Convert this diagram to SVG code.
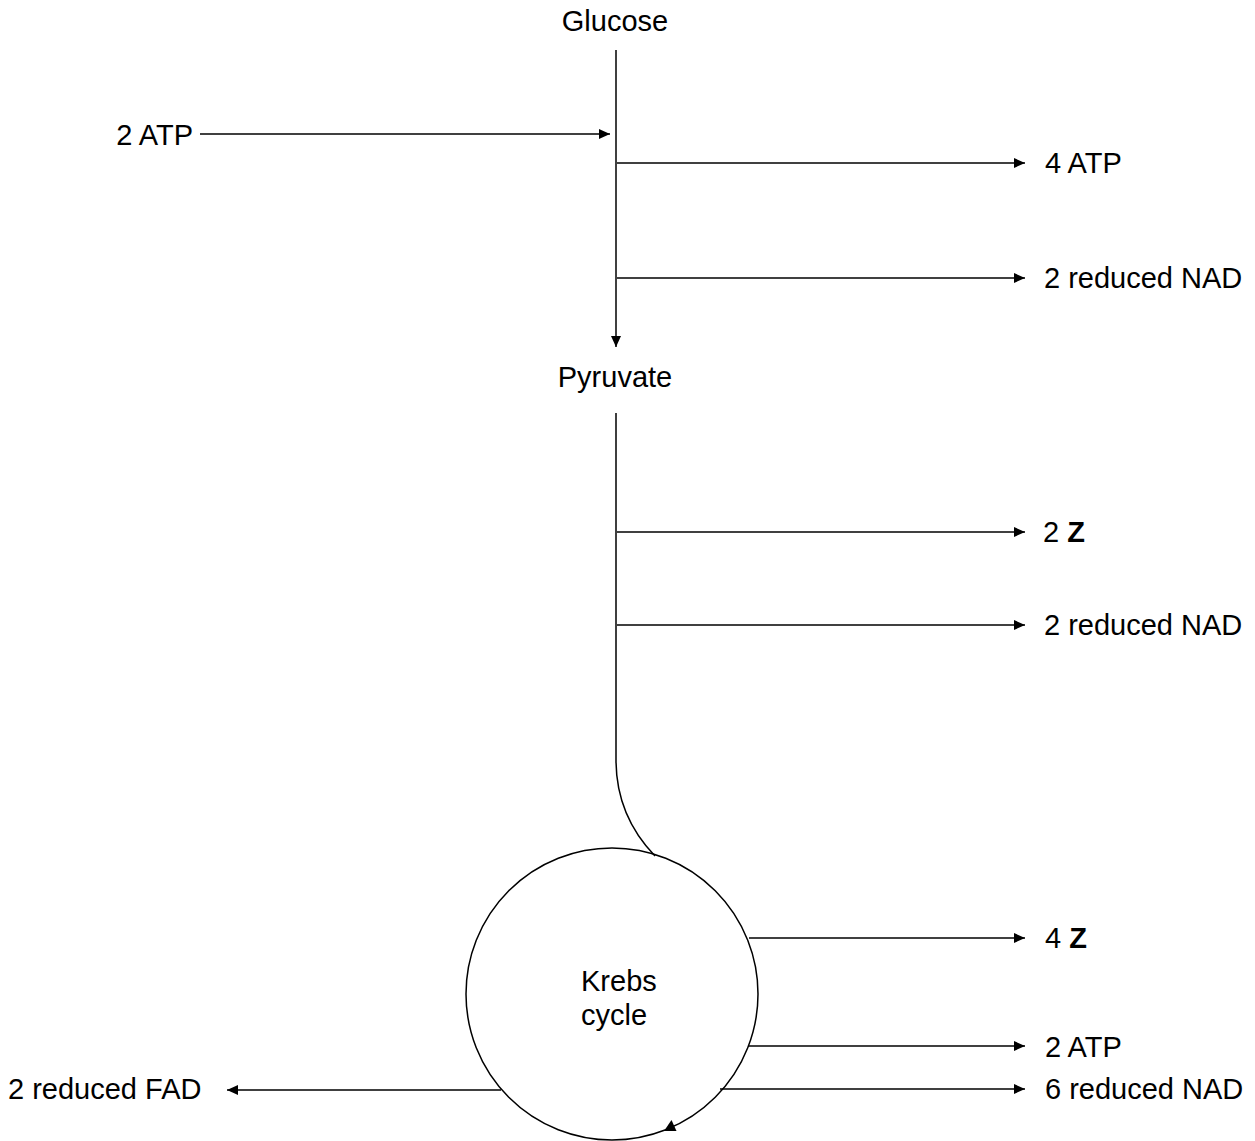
<svg xmlns="http://www.w3.org/2000/svg" width="1255" height="1141" viewBox="0 0 1255 1141">
<style>
text{font-family:"Liberation Sans",Arial,sans-serif;font-size:29px;fill:#000}
.c{text-anchor:middle}
.e{text-anchor:end}
.b{font-weight:bold}
.ln{fill:none;stroke:#000;stroke-width:1.5}
</style>
<defs>
<marker id="ah" markerUnits="userSpaceOnUse" markerWidth="12" markerHeight="12" viewBox="0 0 12 12" refX="11" refY="6" orient="auto">
<path d="M0,1 L11,6 L0,11 Z" fill="#000"/>
</marker>
</defs>
<g id="connectors">
<line class="ln" x1="616" y1="50" x2="616" y2="347" marker-end="url(#ah)"/>
<line class="ln" x1="200" y1="134" x2="610" y2="134" marker-end="url(#ah)"/>
<line class="ln" x1="617" y1="163" x2="1025" y2="163" marker-end="url(#ah)"/>
<line class="ln" x1="617" y1="278" x2="1025" y2="278" marker-end="url(#ah)"/>
<path class="ln" d="M616,413 L616,760 C616,800 630,830 655,856"/>
<line class="ln" x1="617" y1="532" x2="1025" y2="532" marker-end="url(#ah)"/>
<line class="ln" x1="617" y1="625" x2="1025" y2="625" marker-end="url(#ah)"/>
<line class="ln" x1="749" y1="938" x2="1025" y2="938" marker-end="url(#ah)"/>
<line class="ln" x1="748" y1="1046" x2="1025" y2="1046" marker-end="url(#ah)"/>
<line class="ln" x1="720" y1="1089" x2="1025" y2="1089" marker-end="url(#ah)"/>
<line class="ln" x1="501" y1="1090" x2="227" y2="1090" marker-end="url(#ah)"/>
</g>
<g id="glucose"><text class="c" x="615" y="31">Glucose</text></g>
<g id="atp-in"><text class="e" x="193" y="145">2 ATP</text></g>
<g id="atp-out"><text x="1045" y="173">4 ATP</text></g>
<g id="nad-1"><text x="1044" y="288">2 reduced NAD</text></g>
<g id="pyruvate"><text class="c" x="615" y="387">Pyruvate</text></g>
<g id="z-1"><text x="1043" y="542">2 <tspan class="b">Z</tspan></text></g>
<g id="nad-2"><text x="1044" y="635">2 reduced NAD</text></g>
<g id="krebs">
<circle class="ln" cx="612" cy="994" r="146"/>
<polygon points="664,1131 676.5,1131 671.5,1120" fill="#000"/>
<text x="581" y="991">Krebs</text>
<text x="581" y="1025">cycle</text>
</g>
<g id="z-2"><text x="1045" y="948">4 <tspan class="b">Z</tspan></text></g>
<g id="atp-krebs"><text x="1045" y="1057">2 ATP</text></g>
<g id="nad-3"><text x="1045" y="1099">6 reduced NAD</text></g>
<g id="fad"><text x="8" y="1099">2 reduced FAD</text></g>
</svg>
